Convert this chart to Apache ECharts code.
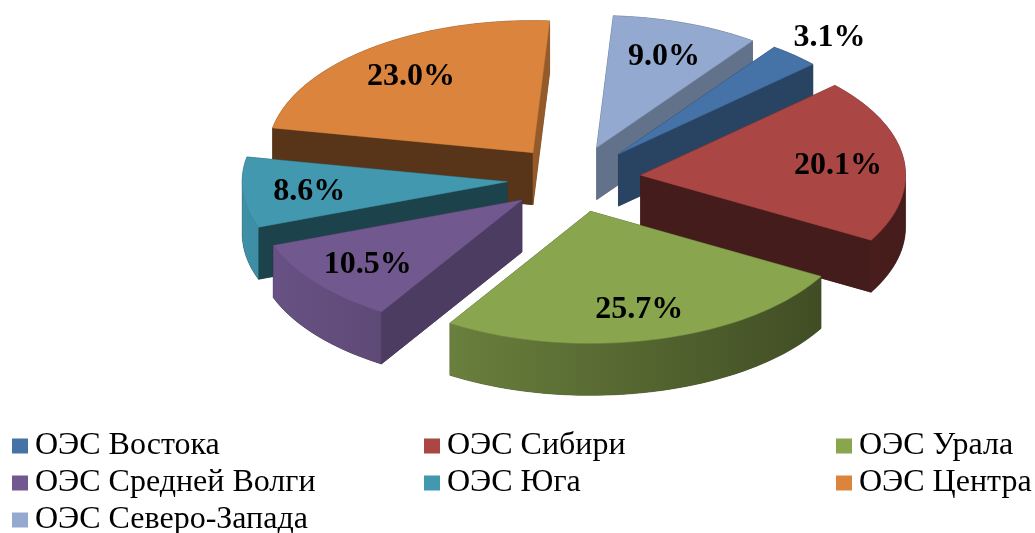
<!DOCTYPE html>
<html>
<head>
<meta charset="utf-8">
<script src="https://cdn.jsdelivr.net/npm/echarts@6/dist/echarts.min.js"></script>
<style>
html, body { margin: 0; padding: 0; background: #fff; }
#chart { width: 1035px; height: 533px; }
</style>
</head>
<body>
<div id="chart"></div>
<script>
var regions = ['ОЭС Востока', 'ОЭС Сибири', 'ОЭС Урала', 'ОЭС Средней Волги',
               'ОЭС Юга', 'ОЭС Центра', 'ОЭС Северо-Запада'];
var shares = [3.1, 20.1, 25.7, 10.5, 8.6, 23.0, 9.0];
var colors = ['#4572A7', '#AA4643', '#89A54E', '#71588F', '#4198AF', '#DB843D', '#93A9CF'];

// legend columns (indexes into regions), row-major like the original
var legendCols = [[0, 3, 6], [1, 4], [2, 5]];

// tilted, exploded pie geometry (px)
var cx = 574, cy = 179, R = 265, r = 132, depth = 52, explode = 67, startDeg = 36;

var total = 0;
shares.forEach(function (v) { total += v; });
var angles = [];
var acc = startDeg;
for (var i = 0; i < shares.length; i++) {
    var a1 = acc;
    acc += shares[i] / total * 360;
    angles.push([a1, acc]);
}

function rad(d) { return d * Math.PI / 180; }
function pt(ox, oy, deg) { return [ox + R * Math.sin(rad(deg)), oy - r * Math.cos(rad(deg))]; }
function down(p) { return [p[0], p[1] + depth]; }

function shade(hex, f) {
    var n = parseInt(hex.slice(1), 16);
    var c = [(n >> 16) & 255, (n >> 8) & 255, n & 255].map(function (v) {
        return Math.max(0, Math.min(255, Math.round(v * f)));
    });
    return 'rgb(' + c.join(',') + ')';
}

function hull(pts) {
    pts = pts.slice().sort(function (a, b) { return a[0] - b[0] || a[1] - b[1]; });
    function cross(o, a, b) { return (a[0] - o[0]) * (b[1] - o[1]) - (a[1] - o[1]) * (b[0] - o[0]); }
    var lower = [], upper = [];
    for (var i = 0; i < pts.length; i++) {
        while (lower.length >= 2 && cross(lower[lower.length - 2], lower[lower.length - 1], pts[i]) <= 0) lower.pop();
        lower.push(pts[i]);
    }
    for (var j = pts.length - 1; j >= 0; j--) {
        while (upper.length >= 2 && cross(upper[upper.length - 2], upper[upper.length - 1], pts[j]) <= 0) upper.pop();
        upper.push(pts[j]);
    }
    upper.pop(); lower.pop();
    return lower.concat(upper);
}

function arcAngles(a, b) {
    var out = [];
    var n = Math.max(2, Math.ceil((b - a) / 2));
    for (var k = 0; k <= n; k++) out.push(a + (b - a) * k / n);
    return out;
}

function wallLight(n) {
    var t = Math.max(0, Math.min(1, (165 - n) / 40));
    return 0.4 + 0.28 * t;
}

function origin(i) {
    var mid = (angles[i][0] + angles[i][1]) / 2;
    return [cx + explode * Math.sin(rad(mid)), cy - explode * r / R * Math.cos(rad(mid))];
}

function sliceChildren(i, share) {
    var col = colors[i];
    var a1 = angles[i][0], a2 = angles[i][1], mid = (a1 + a2) / 2;
    var o = origin(i), ox = o[0], oy = o[1];
    var top = [[ox, oy]].concat(arcAngles(a1, a2).map(function (a) { return pt(ox, oy, a); }));
    var children = [];

    children.push({
        type: 'polygon',
        shape: { points: hull(top.concat(top.map(down))) },
        style: { fill: shade(col, 0.4), stroke: shade(col, 0.4), lineWidth: 0.5 }
    });

    // radial walls that face the viewer
    [[a1, a1 - 90], [a2, a2 + 90]].forEach(function (w) {
        var n = ((w[1] % 360) + 360) % 360;
        if (Math.cos(rad(n)) < -0.02) {
            var p = pt(ox, oy, w[0]);
            var f = wallLight(n);
            children.push({
                type: 'polygon',
                shape: { points: [[ox, oy], p, down(p), [ox, oy + depth]] },
                style: { fill: shade(col, f), stroke: shade(col, f), lineWidth: 0.5 }
            });
        }
    });

    // front part of the curved outer wall
    var lo = Math.max(a1, 90), hi = Math.min(a2, 270);
    if (lo < hi) {
        var tp = arcAngles(lo, hi).map(function (a) { return pt(ox, oy, a); });
        var bp = tp.map(down).reverse();
        var grad = new echarts.graphic.LinearGradient(cx - R - explode, 0, cx + R + explode, 0, [
            { offset: 0, color: shade(col, 0.95) },
            { offset: 0.35, color: shade(col, 0.75) },
            { offset: 1, color: shade(col, 0.4) }
        ], true);
        children.push({
            type: 'polygon',
            shape: { points: tp.concat(bp) },
            style: { fill: grad }
        });
    }

    children.push({
        type: 'polygon',
        shape: { points: top },
        style: { fill: col, stroke: col, lineWidth: 0.5 }
    });

    var lf = share < 5 ? 1.2 : 0.75;
    children.push({
        type: 'text',
        style: {
            x: ox + lf * R * Math.sin(rad(mid)),
            y: oy - lf * r * Math.cos(rad(mid)) + 2,
            text: share.toFixed(1) + '%',
            fill: '#000',
            font: 'bold 32px "Liberation Serif"',
            align: 'center',
            verticalAlign: 'middle'
        }
    });
    return children;
}

// back-to-front draw order
var order = shares.map(function (v, i) {
    var o = origin(i), mid = (angles[i][0] + angles[i][1]) / 2;
    return { i: i, key: o[1] - 0.5 * r * Math.cos(rad(mid)) };
}).sort(function (a, b) { return a.key - b.key; });
var zOf = [];
order.forEach(function (d, rank) { zOf[d.i] = 2 + rank; });

var chartDom = document.getElementById('chart');
var myChart = echarts.init(chartDom);

var legendLeft = [12, 424, 836];
var option = {
    animation: false,
    legend: legendCols.map(function (idx, c) {
        return {
            orient: 'vertical',
            left: legendLeft[c],
            top: 430,
            height: 120,
            padding: 0,
            icon: 'rect',
            itemWidth: 16,
            itemHeight: 15,
            itemGap: 5,
            selectedMode: false,
            data: idx.map(function (k) { return regions[k]; }),
            textStyle: {
                fontFamily: 'Liberation Serif',
                fontSize: 32,
                lineHeight: 31.5,
                padding: [0, 0, 0, 2],
                color: '#000'
            }
        };
    }),
    series: regions.map(function (name, i) {
        return {
            type: 'custom',
            name: name,
            coordinateSystem: 'none',
            z: zOf[i],
            itemStyle: { color: colors[i] },
            data: [[shares[i]]],
            renderItem: function (params, api) {
                return { type: 'group', children: sliceChildren(i, api.value(0)) };
            }
        };
    })
};

option && myChart.setOption(option);
</script>
</body>
</html>
